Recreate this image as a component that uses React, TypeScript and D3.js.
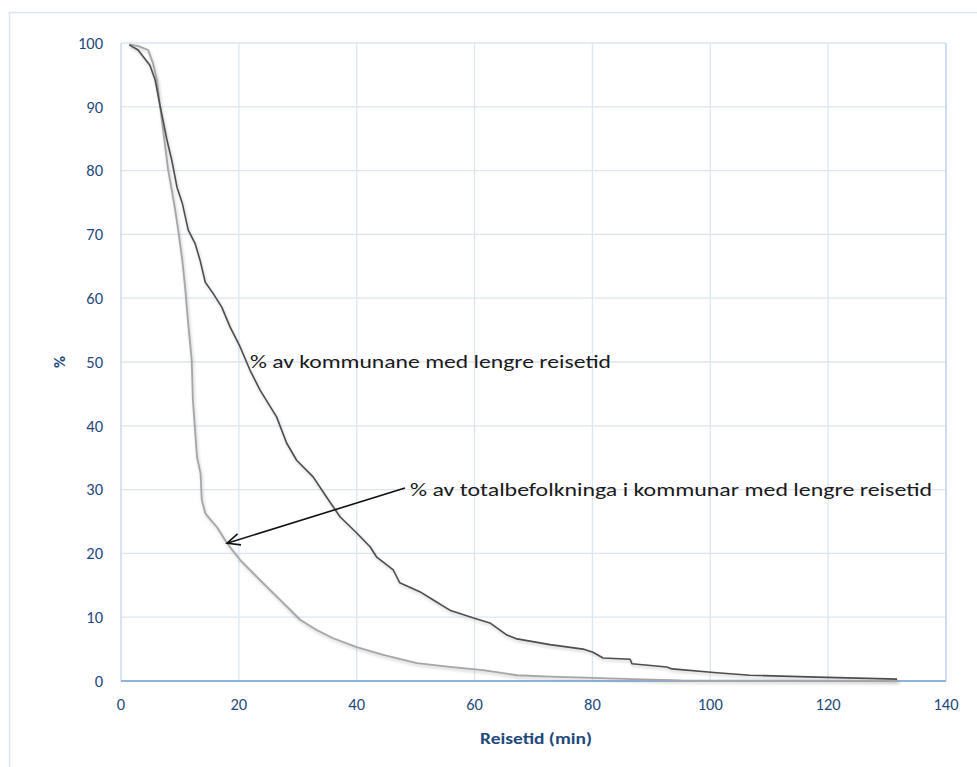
import React from "react";
import * as d3 from "d3";

const xTicks = [0, 20, 40, 60, 80, 100, 120, 140];
const yTicks = [0, 10, 20, 30, 40, 50, 60, 70, 80, 90, 100];

// % av kommunane med lengre reisetid
const kommunaneTime = [1.4, 2.9, 4.9, 5.8, 6.6, 7.8, 8.6, 9.5, 10.4, 11.4, 12.6, 13.4, 14.3, 15.6, 17.1, 18.5, 20.2, 21.9, 23.6, 26.4, 28.1, 29.8, 32.6, 34.9, 37.2, 40.0, 42.3, 43.4, 46.2, 47.3, 50.7, 53.0, 55.8, 59.7, 62.6, 65.5, 67.2, 72.8, 78.4, 80.1, 81.8, 86.4, 86.7, 92.6, 93.5, 101.1, 106.7, 118.1, 131.7];
const kommunaneShare = [99.7, 98.9, 96.5, 94.2, 90.3, 84.8, 81.7, 77.4, 74.9, 70.7, 68.5, 66.0, 62.5, 60.8, 58.6, 55.5, 52.4, 48.7, 45.6, 41.4, 37.3, 34.6, 32.0, 28.8, 25.7, 23.2, 21.0, 19.4, 17.4, 15.4, 14.0, 12.7, 11.1, 9.9, 9.1, 7.2, 6.6, 5.7, 5.0, 4.5, 3.6, 3.4, 2.7, 2.2, 1.9, 1.3, 0.9, 0.6, 0.3];

// % av totalbefolkninga i kommunar med lengre reisetid
const befolkningTime = [1.4, 3.0, 4.6, 5.4, 6.1, 6.6, 7.2, 8.0, 8.6, 9.2, 9.7, 10.4, 10.9, 11.4, 12.0, 12.2, 12.6, 12.9, 13.5, 13.7, 14.3, 15.0, 16.3, 18.0, 20.2, 23.6, 27.0, 30.4, 33.2, 36.0, 40.0, 44.5, 50.2, 55.8, 61.4, 67.2, 72.8, 80.0, 86.9, 95, 110, 132];
const befolkningShare = [99.8, 99.5, 98.9, 96.9, 94.2, 90.3, 86, 80.1, 77.0, 73.8, 70.7, 66.0, 61.5, 56.1, 50.3, 44.0, 38.9, 35.1, 32.5, 28.4, 26.3, 25.5, 24.1, 21.6, 19.0, 15.8, 12.7, 9.6, 8.0, 6.7, 5.3, 4.1, 2.8, 2.2, 1.7, 0.9, 0.7, 0.5, 0.3, 0.1, 0.05, 0];

const labelKommunane = "% av kommunane med lengre reisetid";
const labelBefolkning = "% av totalbefolkninga i kommunar med lengre reisetid";

const FONT = "Carlito, Lato, 'Open Sans', sans-serif";
const AXIS_COLOR = "#1f497d";
const GRID = "#dce6f2";

export default function App() {
  const W = 977, H = 767;
  const left = 121, right = 946, top = 43, bottom = 681;
  const x = d3.scaleLinear().domain([0, 140]).range([left, right]);
  const y = d3.scaleLinear().domain([0, 100]).range([bottom, top]);

  const line = d3.line<[number, number]>().x(d => x(d[0])).y(d => y(d[1])).curve(d3.curveLinear);
  const darkPts = kommunaneTime.map((t, i) => [t, kommunaneShare[i]] as [number, number]);
  const lightPts = befolkningTime.map((t, i) => [t, befolkningShare[i]] as [number, number]);

  // arrow from label to the light curve
  const ax1 = 405, ay1 = 488;
  const ax2 = x(18), ay2 = y(21.6);
  const ang = Math.atan2(ay1 - ay2, ax1 - ax2);
  const ah = 14, aw = 0.42;

  return (
    <svg width={W} height={H} style={{ position: "absolute", left: 0, top: 0, background: "#fff" }} fontFamily={FONT}>
      <defs>
        <filter id="shadow" x="-5%" y="-5%" width="110%" height="110%">
          <feDropShadow dx="1" dy="2" stdDeviation="1.5" floodColor="#888" floodOpacity="0.45" />
        </filter>
      </defs>
      {/* outer frame */}
      <rect x={9.5} y={12.5} width={W + 20} height={H + 20} fill="#fff" stroke="#dbe5f1" strokeWidth={1.5} />

      {/* grid */}
      {yTicks.map(v => (
        <line key={"gy" + v} x1={left} x2={right} y1={y(v)} y2={y(v)} stroke={GRID} strokeWidth={1.3} />
      ))}
      {xTicks.map(v => (
        <line key={"gx" + v} x1={x(v)} x2={x(v)} y1={top} y2={bottom} stroke={GRID} strokeWidth={1.3} />
      ))}
      <line x1={right} x2={right} y1={top} y2={bottom} stroke="#c6d9f1" strokeWidth={1.5} />
      <line x1={left} x2={left} y1={top} y2={bottom} stroke="#c6d9f1" strokeWidth={1} />
      <line x1={left} x2={right} y1={bottom} y2={bottom} stroke="#8db3e2" strokeWidth={1.8} />

      {/* y tick labels */}
      {yTicks.map(v => (
        <text key={"ty" + v} x={103} y={y(v)} dy="0.35em" textAnchor="end" fontSize={16.5} fill={AXIS_COLOR}>{v}</text>
      ))}
      {/* x tick labels */}
      {xTicks.map(v => (
        <text key={"tx" + v} x={x(v)} y={704} dy="0.35em" textAnchor="middle" fontSize={16.5} fill={AXIS_COLOR}>{v}</text>
      ))}
      <text x={536} y={738} dy="0.35em" textAnchor="middle" fontSize={16.5} fontWeight="bold" fill={AXIS_COLOR} textLength={112} lengthAdjust="spacingAndGlyphs">Reisetid (min)</text>
      <text transform={`translate(59,362) rotate(-90)`} dy="0.35em" textAnchor="middle" fontSize={16.5} fontWeight="bold" fill={AXIS_COLOR}>%</text>

      {/* series */}
      <g filter="url(#shadow)">
        <path d={line(lightPts) || ""} fill="none" stroke="#a6a6a6" strokeWidth={1.8} strokeLinejoin="round" />
        <path d={line(darkPts) || ""} fill="none" stroke="#4d4d4d" strokeWidth={1.6} strokeLinejoin="round" />
      </g>

      {/* annotations */}
      <text x={250} y={362} dy="0.35em" fontSize={18} fill="#1a1a1a" textLength={361} lengthAdjust="spacingAndGlyphs">{labelKommunane}</text>
      <text x={410} y={490} dy="0.35em" fontSize={18} fill="#1a1a1a" textLength={522} lengthAdjust="spacingAndGlyphs">{labelBefolkning}</text>
      <line x1={ax1} y1={ay1} x2={ax2} y2={ay2} stroke="#111" strokeWidth={1.6} />
      <polyline
        points={`${ax2 + ah * Math.cos(ang - aw)},${ay2 + ah * Math.sin(ang - aw)} ${ax2},${ay2} ${ax2 + ah * Math.cos(ang + aw)},${ay2 + ah * Math.sin(ang + aw)}`}
        fill="none" stroke="#111" strokeWidth={1.6} />
    </svg>
  );
}
